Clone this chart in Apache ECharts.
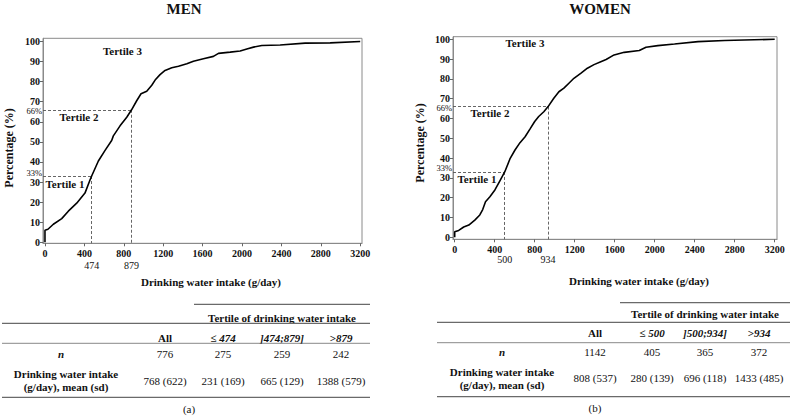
<!DOCTYPE html>
<html><head><meta charset="utf-8">
<script src="https://cdn.jsdelivr.net/npm/echarts@6/dist/echarts.min.js"></script>
<style>html,body{margin:0;padding:0;background:#fff}#c{width:792px;height:416px}</style>
</head><body><div id="c"></div>
<script>
// ---------- data ----------
const menCurve = [[0,0],[0,6],[30,6.5],[85,9],[170,11.8],[237,15.5],[322,19.5],[406,24.5],[457,31],[474,33],[542,40.5],[610,45.8],[677,50.7],[694,53],[762,58],[830,62.3],[879,66],[931,70.5],[975,74],[1033,75.2],[1084,78.2],[1118,80.8],[1168,83.5],[1219,85.6],[1287,86.9],[1355,87.7],[1440,88.9],[1507,90.2],[1608,91.4],[1710,92.6],[1761,94.1],[1880,94.7],[1981,95.3],[2049,96.3],[2117,97.2],[2201,98],[2387,98.3],[2641,99.2],[2895,99.3],[3200,100]];
const womenCurve = [[0,0],[0,2.8],[40,3.5],[90,5.2],[141,6.2],[201,8.7],[251,11.3],[280,14],[308,18],[352,20.5],[402,23.9],[452,28.5],[500,33],[555,39.9],[603,44.1],[653,47.8],[704,50.8],[757,55],[800,58.5],[840,61],[891,63.4],[934,66],[991,70.2],[1042,73.5],[1092,75.3],[1142,77.8],[1192,80.3],[1260,82.8],[1327,85.4],[1393,87.2],[1461,88.7],[1514,89.8],[1594,92.1],[1695,93.4],[1846,94.3],[1913,96],[2031,96.8],[2198,97.6],[2433,98.8],[2700,99.4],[3200,100]];
const menCuts = [474, 879];
const womenCuts = [500, 934];
const pctCuts = [33, 66];
const pctLabels = ['33%', '66%'];
const yTicks = [0,10,20,30,40,50,60,70,80,90,100];
const xTicks = [0,400,800,1200,1600,2000,2400,2800,3200];
const tertileNames = ['Tertile 1', 'Tertile 2', 'Tertile 3'];
const panelTitles = ['MEN', 'WOMEN'];
const yAxisTitle = 'Percentage (%)';
const xAxisTitle = 'Drinking water intake (g/day)';
const tableSpan = 'Tertile of drinking water intake';
const colAll = 'All';
const menGroups = ['≤ 474', ']474;879]', '>879'];
const womenGroups = ['≤ 500', ']500;934]', '>934'];
const rowN = 'n';
const rowIntake = ['Drinking water intake', '(g/day), mean (sd)'];
const menN = ['776', '275', '259', '242'];
const womenN = ['1142', '405', '365', '372'];
const menIntake = ['768 (622)', '231 (169)', '665 (129)', '1388 (579)'];
const womenIntake = ['808 (537)', '280 (139)', '696 (118)', '1433 (485)'];
const captions = ['(a)', '(b)'];

// ---------- layout ----------
const FONT = 'Liberation Serif, Times New Roman, serif';
const panels = [
  {curve: menCurve, cuts: menCuts, groups: menGroups, nVals: menN, intake: menIntake, caption: captions[0], title: panelTitles[0],
   grid: {left: 43, top: 38.3, width: 319, height: 205}, xMin: -20, xMax: 3218, yMin: -0.5, yMax: 101.6,
   titleX: 184, titleY: 9, yTitleX: 9, yTitleY: 148, xTitleX: 211, xTitleY: 282, cutLabelDy: 22,
   tert: [[203, 29.2], [345, 62.3], [787, 95.5]],
   table: {lineX0: 2, lineX1: 370, spanX0: 194, topY: 304.3, spanY: 318, line2Y: 323.3, headY: 337.7, line3Y: 343.3,
     nY: 354.3, valY: 380.7, labX: 66, nX: 61, cols: [165, 223, 282, 341], botY: 397.3, capX: 189, capY: 409}},
  {curve: womenCurve, cuts: womenCuts, groups: womenGroups, nVals: womenN, intake: womenIntake, caption: captions[1], title: panelTitles[1],
   grid: {left: 453, top: 36.7, width: 324, height: 202.6}, xMin: -17, xMax: 3223, yMin: -1, yMax: 101.3,
   titleX: 600, titleY: 9, yTitleX: 420, yTitleY: 143, xTitleX: 639, xTitleY: 281, cutLabelDy: 20,
   tert: [[223, 29.4], [353, 62.6], [703, 98]],
   table: {lineX0: 437, lineX1: 790, spanX0: 620, topY: 302.7, spanY: 314, line2Y: 322.3, headY: 333.3, line3Y: 342.7,
     nY: 351.7, valY: 378.3, labX: 502, nX: 502, cols: [595, 652, 705, 759], botY: 396.7, capX: 595, capY: 408.3}}
];

const chart = echarts.init(document.getElementById('c'), null, {renderer: 'svg'});

const axisText = {fontFamily: FONT, fontWeight: 'bold', fontSize: 10, color: '#111'};
const option = {
  animation: false,
  backgroundColor: '#fff',
  grid: panels.map(p => Object.assign({show: true, borderColor: '#8a8a8a', borderWidth: 1, backgroundColor: 'transparent'}, p.grid)),
  xAxis: panels.map((p, i) => ({
    type: 'value', gridIndex: i, min: p.xMin, max: p.xMax,
    axisLine: {show: true, onZero: false, lineStyle: {color: '#8a8a8a'}},
    axisTick: {show: true, length: 3, customValues: xTicks, lineStyle: {color: '#666'}},
    axisLabel: Object.assign({customValues: xTicks, margin: 5, formatter: v => String(v)}, axisText),
    splitLine: {show: false}
  })),
  yAxis: panels.map((p, i) => ({
    type: 'value', gridIndex: i, min: p.yMin, max: p.yMax,
    axisLine: {show: true, onZero: false, lineStyle: {color: '#8a8a8a'}},
    axisTick: {show: true, length: 3, customValues: yTicks, lineStyle: {color: '#666'}},
    axisLabel: Object.assign({customValues: yTicks, margin: 3, formatter: v => String(v)}, axisText),
    splitLine: {show: false}
  })),
  series: panels.map((p, i) => ({
    type: 'line', xAxisIndex: i, yAxisIndex: i, data: p.curve, showSymbol: false, symbol: 'none',
    lineStyle: {color: '#000', width: 1.6}, z: 5,
    markLine: {
      silent: true, symbol: 'none', animation: false, label: {show: false},
      lineStyle: {type: [3, 2], color: '#555', width: 0.9},
      data: p.cuts.map((c, k) => [{coord: [p.xMin, pctCuts[k]]}, {coord: [c, pctCuts[k]]}])
        .concat(p.cuts.map((c, k) => [{coord: [c, pctCuts[k]]}, {coord: [c, p.yMin]}]))
    }
  }))
};
chart.setOption(option);

// ---------- annotations & tables ----------
function txt(x, y, s, o) {
  o = o || {};
  return {type: 'text', x: x, y: y, rotation: o.rot || 0, silent: true,
    style: {text: s, fontFamily: FONT, fontSize: o.size || 11, fontWeight: o.bold ? 'bold' : 'normal',
      fontStyle: o.italic ? 'italic' : 'normal', fill: o.color || '#111',
      textAlign: o.align || 'center', textVerticalAlign: 'middle'}};
}
function hline(x0, x1, y, w) {
  return {type: 'line', silent: true, shape: {x1: x0, y1: y, x2: x1, y2: y},
    style: {stroke: '#6a6a6a', lineWidth: w || 1.2}};
}
const g = [];
panels.forEach((p, i) => {
  const fi = {gridIndex: i};
  g.push(txt(p.titleX, p.titleY, p.title, {bold: true, size: 15}));
  g.push(txt(p.yTitleX, p.yTitleY, yAxisTitle, {bold: true, size: 12, rot: Math.PI / 2}));
  g.push(txt(p.xTitleX, p.xTitleY, xAxisTitle, {bold: true, size: 11}));
  const yBottom = chart.convertToPixel(fi, [0, p.yMin])[1];
  p.cuts.forEach((c, k) => {
    const px = chart.convertToPixel(fi, [c, 0])[0];
    g.push(txt(px, yBottom + p.cutLabelDy, String(c), {size: 10}));
    const py = chart.convertToPixel(fi, [0, pctCuts[k]])[1];
    g.push(txt(p.grid.left - 1, py + (k === 0 ? -3.5 : 1.4), pctLabels[k], {size: 8.5, align: 'right'}));
  });
  p.tert.forEach((t, k) => {
    const pt = chart.convertToPixel(fi, t);
    g.push(txt(pt[0], pt[1], tertileNames[k], {bold: true, size: 11}));
  });
  const T = p.table;
  g.push(hline(T.spanX0, T.lineX1, T.topY));
  g.push(txt((T.spanX0 + T.lineX1) / 2, T.spanY, tableSpan, {bold: true}));
  g.push(hline(T.lineX0, T.lineX1, T.line2Y));
  g.push(txt(T.cols[0], T.headY, colAll, {bold: true}));
  p.groups.forEach((s, k) => g.push(txt(T.cols[k + 1], T.headY, s, {bold: true, italic: true})));
  g.push(hline(T.lineX0, T.lineX1, T.line3Y, 0.8));
  g.push(txt(T.nX, T.nY, rowN, {bold: true, italic: true}));
  p.nVals.forEach((s, k) => g.push(txt(T.cols[k], T.nY, s)));
  g.push(txt(T.labX, T.valY - 6.3, rowIntake[0], {bold: true}));
  g.push(txt(T.labX, T.valY + 6.3, rowIntake[1], {bold: true}));
  p.intake.forEach((s, k) => g.push(txt(T.cols[k], T.valY, s)));
  g.push(hline(T.lineX0, T.lineX1, T.botY));
  g.push(txt(T.capX, T.capY, p.caption));
});
chart.setOption({graphic: g});
</script>
</body></html>
